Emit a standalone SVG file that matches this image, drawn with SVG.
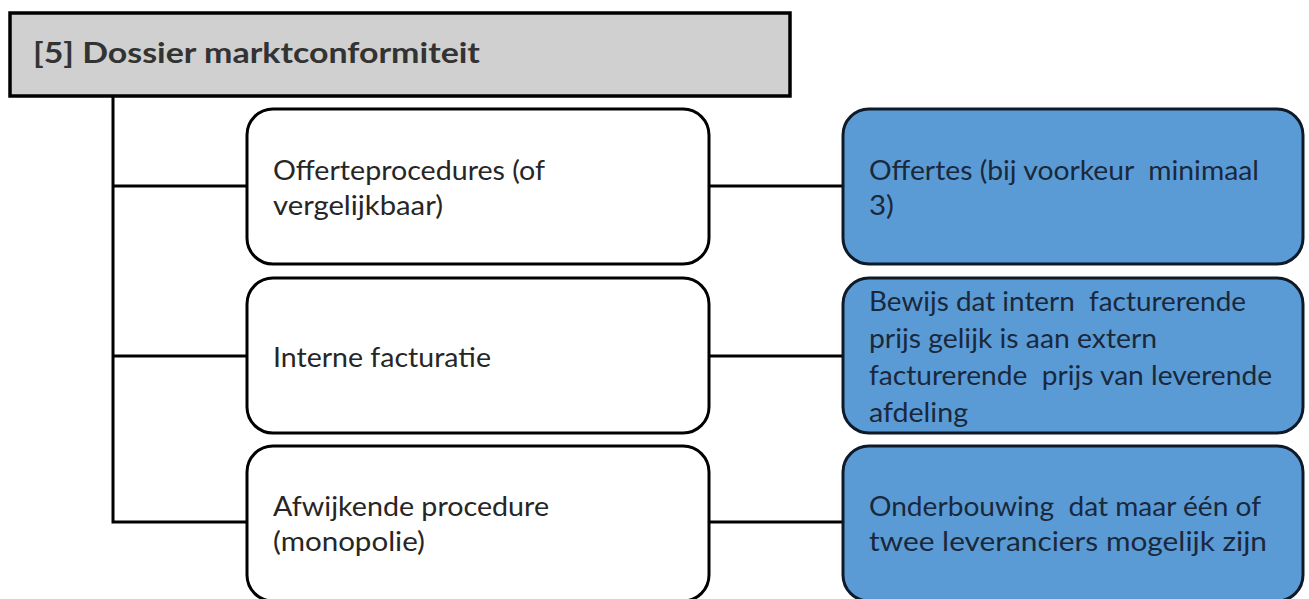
<svg xmlns="http://www.w3.org/2000/svg" width="1309" height="599" viewBox="0 0 1309 599">
<style>
  .bg { fill: #ffffff; }
  .title-box { fill: #d0d0d0; stroke: #000000; stroke-width: 3.5; }
  .title { font-family: Lato, "Open Sans", "Liberation Sans", sans-serif; font-weight: bold; font-size: 28px; fill: #333333; }
  .wbox { fill: #ffffff; stroke: #000000; stroke-width: 3; }
  .bbox { fill: #5b9bd5; stroke: #0f1a29; stroke-width: 3; }
  .wtext { font-family: Lato, "Open Sans", "Liberation Sans", sans-serif; font-size: 26px; fill: #262626; }
  .btext { font-family: Lato, "Open Sans", "Liberation Sans", sans-serif; font-size: 26px; fill: #1a283b; }
  .conn { stroke: #000000; stroke-width: 3; fill: none; }
</style>
<rect class="bg" x="0" y="0" width="1309" height="599"/>

<g id="connectors">
  <polyline class="conn" points="113,96 113,522 247,522"/>
  <line class="conn" x1="113" y1="186" x2="247" y2="186"/>
  <line class="conn" x1="113" y1="356" x2="247" y2="356"/>
  <line class="conn" x1="709" y1="186" x2="843" y2="186"/>
  <line class="conn" x1="709" y1="356" x2="843" y2="356"/>
  <line class="conn" x1="709" y1="522" x2="843" y2="522"/>
</g>

<g id="title">
  <rect class="title-box" x="10" y="13" width="780" height="83"/>
  <text class="title" x="33" y="63" textLength="447" lengthAdjust="spacingAndGlyphs">[5] Dossier marktconformiteit</text>
</g>

<g id="offerteprocedures">
  <rect class="wbox" x="247" y="109" width="462" height="155" rx="26" ry="26"/>
  <text class="wtext" x="273" y="180" textLength="272" lengthAdjust="spacingAndGlyphs">Offerteprocedures (of</text>
  <text class="wtext" x="273" y="215" textLength="170" lengthAdjust="spacingAndGlyphs">vergelijkbaar)</text>
</g>

<g id="interne-facturatie">
  <rect class="wbox" x="247" y="278" width="462" height="155" rx="26" ry="26"/>
  <text class="wtext" x="273" y="367" textLength="218" lengthAdjust="spacingAndGlyphs">Interne facturatie</text>
</g>

<g id="afwijkende-procedure">
  <rect class="wbox" x="247" y="446" width="462" height="155" rx="26" ry="26"/>
  <text class="wtext" x="273" y="516" textLength="276" lengthAdjust="spacingAndGlyphs">Afwijkende procedure</text>
  <text class="wtext" x="273" y="551" textLength="152" lengthAdjust="spacingAndGlyphs">(monopolie)</text>
</g>

<g id="offertes">
  <rect class="bbox" x="843" y="109" width="460" height="155" rx="26" ry="26"/>
  <text class="btext" x="869" y="180" textLength="390" lengthAdjust="spacingAndGlyphs" xml:space="preserve">Offertes (bij voorkeur  minimaal</text>
  <text class="btext" x="869" y="215" textLength="25" lengthAdjust="spacingAndGlyphs">3)</text>
</g>

<g id="bewijs">
  <rect class="bbox" x="843" y="278" width="460" height="155" rx="26" ry="26"/>
  <text class="btext" x="869" y="311" textLength="377" lengthAdjust="spacingAndGlyphs" xml:space="preserve">Bewijs dat intern  facturerende</text>
  <text class="btext" x="869" y="348" textLength="288" lengthAdjust="spacingAndGlyphs">prijs gelijk is aan extern</text>
  <text class="btext" x="869" y="385" textLength="403" lengthAdjust="spacingAndGlyphs" xml:space="preserve">facturerende  prijs van leverende</text>
  <text class="btext" x="869" y="422" textLength="99" lengthAdjust="spacingAndGlyphs">afdeling</text>
</g>

<g id="onderbouwing">
  <rect class="bbox" x="843" y="446" width="460" height="155" rx="26" ry="26"/>
  <text class="btext" x="869" y="516" textLength="392" lengthAdjust="spacingAndGlyphs" xml:space="preserve">Onderbouwing  dat maar één of</text>
  <text class="btext" x="869" y="551" textLength="398" lengthAdjust="spacingAndGlyphs">twee leveranciers mogelijk zijn</text>
</g>
</svg>
